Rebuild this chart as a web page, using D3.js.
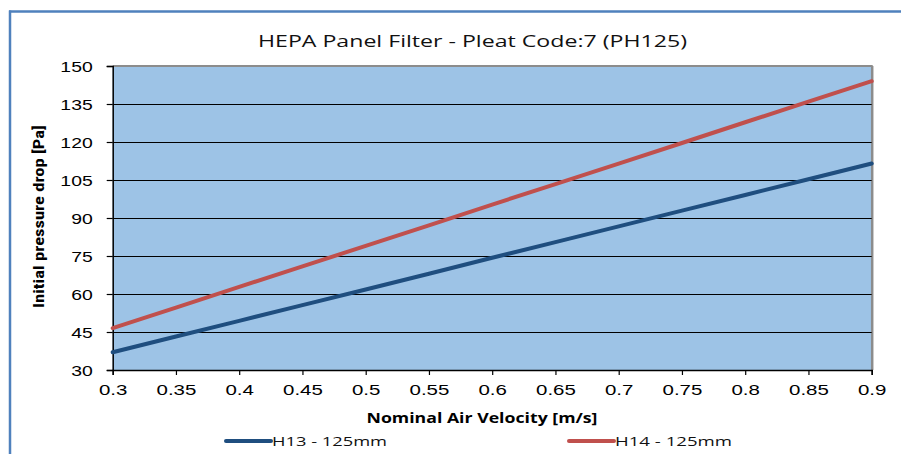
<!DOCTYPE html>
<html><head><meta charset="utf-8">
<script src="https://cdn.jsdelivr.net/npm/d3@7"></script>
<style>
html,body{margin:0;padding:0;background:#fff;}
svg{display:block;}
</style></head>
<body>
<script>
const velocities = [0.3,0.35,0.4,0.45,0.5,0.55,0.6,0.65,0.7,0.75,0.8,0.85,0.9];
const h13 = [37,43.2,49.4,55.6,61.8,68,74.3,80.5,86.7,92.9,99.1,105.3,111.5];
const h14 = [46.5,54.6,62.8,70.9,79,87.1,95.3,103.4,111.5,119.6,127.8,135.9,144];
const seriesNames = ["H13 - 125mm","H14 - 125mm"];
const yTicks = [30,45,60,75,90,105,120,135,150];
const xTicks = [0.3,0.35,0.4,0.45,0.5,0.55,0.6,0.65,0.7,0.75,0.8,0.85,0.9];
const title = "HEPA Panel Filter - Pleat Code:7 (PH125)";
const xTitle = "Nominal Air Velocity [m/s]";
const yTitle = "Initial pressure drop [Pa]";

const W=901,H=454;
const colors=["#1f4e7f","#c0504d"];
const svg=d3.select("body").append("svg").attr("width",W).attr("height",H);

function stretch(sel, ratio){
  sel.each(function(){
    const w=this.getComputedTextLength();
    d3.select(this).attr("textLength",w*ratio).attr("lengthAdjust","spacingAndGlyphs");
  });
}
function fit(sel, width){
  sel.attr("textLength",width).attr("lengthAdjust","spacingAndGlyphs");
}

// outer frame
svg.append("line").attr("x1",9).attr("x2",W).attr("y1",11.5).attr("y2",11.5).attr("stroke","#4f81bd").attr("stroke-width",2.5);
svg.append("line").attr("x1",10).attr("x2",10).attr("y1",10.5).attr("y2",H).attr("stroke","#4f81bd").attr("stroke-width",2.5);

const L=112.7,R=871.7,T=66,B=370;
const x=d3.scaleLinear().domain([0.3,0.9]).range([L,R]);
const y=d3.scaleLinear().domain([30,150]).range([B,T]);

// plot area
svg.append("rect").attr("x",L).attr("y",T).attr("width",R-L).attr("height",B-T).attr("fill","#9dc3e6");
svg.append("line").attr("x1",L).attr("x2",R+1).attr("y1",T).attr("y2",T).attr("stroke","#8c8c8c").attr("stroke-width",2);
svg.append("line").attr("x1",R+0.5).attr("x2",R+0.5).attr("y1",T).attr("y2",B).attr("stroke","#8c8c8c").attr("stroke-width",2.5);

// gridlines
svg.append("g").selectAll("line").data(yTicks.filter(d=>d>30&&d<150)).join("line")
  .attr("x1",L).attr("x2",R).attr("y1",d=>Math.round(y(d))+0.5).attr("y2",d=>Math.round(y(d))+0.5)
  .attr("stroke","#000").attr("stroke-width",1);

const tickFont='"Liberation Sans", Arial, sans-serif';
// y axis
const ya=svg.append("g").attr("transform",`translate(${L},0)`)
  .call(d3.axisLeft(y).tickValues(yTicks).tickSize(6).tickPadding(14).tickFormat(d3.format("d")));
ya.select(".domain").attr("stroke","#000").attr("stroke-width",1.5);
ya.selectAll(".tick line").attr("stroke","#000").attr("stroke-width",1.2);
ya.selectAll("text").attr("font-family",tickFont).attr("font-size",15.5).attr("fill","#000").attr("dy","0.34em");
stretch(ya.selectAll("text"),1.25);

// x axis
const xa=svg.append("g").attr("transform",`translate(0,${B})`)
  .call(d3.axisBottom(x).tickValues(xTicks).tickSize(5).tickPadding(9).tickFormat(d=>String(+d.toFixed(2))));
xa.select(".domain").attr("stroke","#000").attr("stroke-width",1.5);
xa.selectAll(".tick line").attr("stroke","#000").attr("stroke-width",1.2);
xa.selectAll("text").attr("font-family",tickFont).attr("font-size",15.5).attr("fill","#000");
stretch(xa.selectAll("text"),1.32);

// lines
const series=[h13,h14];
const line=d3.line().x((d,i)=>x(velocities[i])).y(d=>y(d));
svg.append("g").selectAll("path").data(series).join("path")
  .attr("d",d=>line(d)).attr("fill","none").attr("stroke",(d,i)=>colors[i]).attr("stroke-width",4).attr("stroke-linecap","round");

// title
fit(svg.append("text").attr("x",472.5).attr("y",46.5).attr("text-anchor","middle")
  .attr("font-family",'"Open Sans", sans-serif').attr("font-size",16.8).attr("fill","#111").text(title),429);

// axis titles
fit(svg.append("text").attr("x",482).attr("y",423).attr("text-anchor","middle")
  .attr("font-family",'"Open Sans", sans-serif').attr("font-weight","bold").attr("font-size",13.5).attr("fill","#000").text(xTitle),231);
fit(svg.append("text").attr("transform","translate(43.5,216.5) rotate(-90)").attr("text-anchor","middle")
  .attr("font-family",'"Liberation Sans Narrow", "Roboto Condensed", "Liberation Sans", sans-serif').attr("font-weight","bold").attr("font-size",15).attr("fill","#000").text(yTitle),183);

// legend
const legX=[225,568];
const legW=[115,117];
const lg=svg.append("g").selectAll("g").data(seriesNames).join("g").attr("transform",(d,i)=>`translate(${legX[i]},441)`);
lg.append("line").attr("x1",1).attr("x2",46).attr("y1",0).attr("y2",0).attr("stroke",(d,i)=>colors[i]).attr("stroke-width",4).attr("stroke-linecap","round");
lg.append("text").attr("x",47).attr("y",5).attr("font-family",'"Open Sans", sans-serif').attr("font-size",13.5).attr("fill","#111").text(d=>d)
  .attr("textLength",(d,i)=>legW[i]).attr("lengthAdjust","spacingAndGlyphs");
</script>
</body></html>
